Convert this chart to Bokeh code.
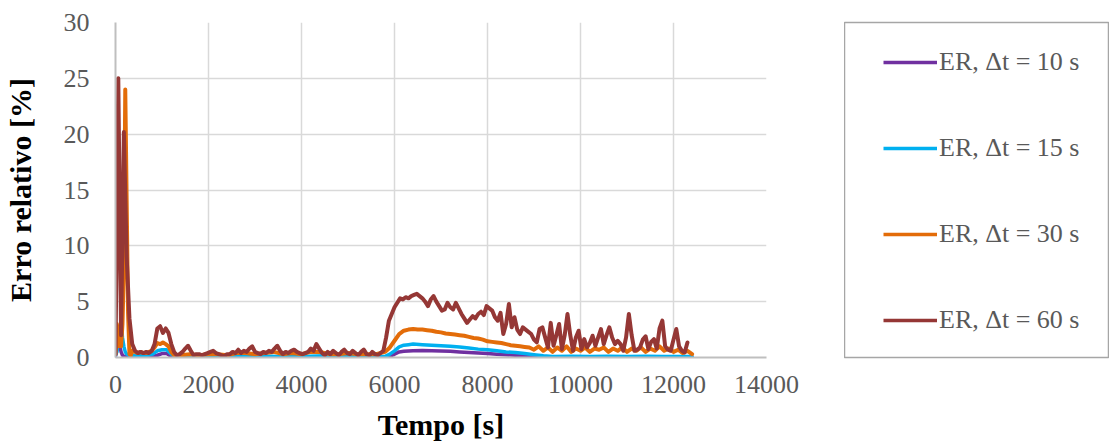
from bokeh.plotting import figure
from bokeh.models import Range1d, FixedTicker, Legend, LegendItem
from bokeh.layouts import row
from bokeh.embed import file_html
from bokeh.resources import INLINE

# ---------------- data ----------------
x_ticks = [0, 2000, 4000, 6000, 8000, 10000, 12000, 14000]
y_ticks = [0, 5, 10, 15, 20, 25, 30]

labels = ["ER, \u0394t = 10 s", "ER, \u0394t = 15 s", "ER, \u0394t = 30 s", "ER, \u0394t = 60 s"]
colors = ["#7030A0", "#00B0F0", "#E36C09", "#953735"]

# Δt = 60 s (sampled every 60 s)
er60 = [
    0.3, 25.0, 2.0, 20.2, 9.0, 3.5, 1.2, 0.6, 0.4, 0.5,
    0.4, 0.5, 0.4, 0.6, 1.2, 2.6, 2.8, 2.2, 2.6, 2.2,
    1.2, 0.5, 0.2, 0.3, 0.5, 0.8, 1.05, 0.6, 0.2, 0.3,
    0.3, 0.2, 0.3, 0.4, 0.5, 0.6, 0.4, 0.3, 0.2, 0.1,
    0.3, 0.3, 0.5, 0.4, 0.7, 0.4, 0.6, 0.5, 0.8, 1.0,
    0.5, 0.4, 0.3, 0.5, 0.4, 0.6, 0.5, 0.8, 1.05, 0.6,
    0.3, 0.5, 0.4, 0.6, 0.7, 0.5, 0.4, 0.3, 0.4, 0.5,
    0.8, 0.6, 1.2, 0.8, 0.4, 0.2, 0.5, 0.3, 0.6, 0.4,
    0.2, 0.5, 0.7, 0.4, 0.3, 0.6, 0.4, 0.2, 0.5, 0.7,
    0.3, 0.2, 0.5, 0.3, 0.2, 0.4, 0.6, 1.8, 3.3, 3.9,
    4.5, 4.9, 5.3, 5.2, 5.4, 5.3, 5.5, 5.6, 5.7, 5.5,
    5.3, 5.0, 4.6, 5.2, 5.5, 5.0, 4.6, 4.2, 4.3, 4.9,
    4.5, 4.3, 4.9, 4.4, 3.9, 3.5, 3.1, 3.4, 3.7, 3.5,
    3.9, 4.1, 3.8, 4.6, 4.4, 4.2, 3.6, 3.3, 4.0, 2.1,
    3.0, 4.8, 2.7, 3.6, 2.5, 2.1, 2.7, 2.5, 2.3, 2.1,
    1.6, 1.35, 2.55, 2.7, 1.8, 0.9, 3.1, 1.05, 2.0, 3.0,
    0.75, 2.0, 3.9, 2.0, 0.6, 1.8, 2.4, 0.75, 1.65, 0.9,
    1.3, 1.95, 1.05, 1.8, 2.55, 1.2, 2.0, 2.7, 1.8, 1.2,
    1.5, 1.2, 0.6, 1.8, 3.9, 2.0, 0.6, 0.7, 0.9, 1.6,
    1.9, 0.75, 1.4, 1.65, 0.8, 2.6, 3.3, 1.0, 0.7, 0.6,
    1.6, 2.55, 1.0, 0.6, 0.45, 1.35,
]
t60 = [60 * i for i in range(len(er60))]

# Δt = 30 s
t30 = [0, 30, 60, 90, 120, 150, 180, 210, 240, 270, 300, 330, 360, 420, 480,
       540, 600, 660, 720, 780, 840, 900, 960, 1020, 1080, 1140, 1200, 1260,
       1320, 1400, 1600, 1800, 2000, 2200, 2400, 2600, 2800, 3000, 3200, 3400,
       3600, 3800, 4000, 4200, 4400, 4600, 4800, 5000, 5200, 5400, 5600, 5800,
       5900, 6000, 6100, 6200, 6300, 6400, 6500, 6600, 6700, 6800, 6900, 7000,
       7100, 7200, 7300, 7400, 7500, 7600, 7700, 7800, 7900, 8000, 8100, 8200,
       8300, 8400, 8500, 8600, 8700, 8800, 8900, 9000, 9100, 9200, 9300, 9400,
       9500, 9600, 9700, 9800, 9900, 10000, 10100, 10200, 10300, 10400, 10500,
       10600, 10700, 10800, 10900, 11000, 11100, 11200, 11300, 11400, 11500,
       11600, 11700, 11800, 11900, 12000, 12100, 12200, 12300, 12400]
er30 = [0.3, 3.0, 1.0, 2.0, 1.0, 3.0, 8.0, 24.0, 14.0, 4.0, 0.3, 0.2, 0.6, 0.5, 0.4,
        0.5, 0.4, 0.4, 0.5, 0.6, 0.9, 1.3, 1.2, 1.35, 1.2, 1.0, 0.5, 0.2,
        0.15, 0.2, 0.3, 0.2, 0.3, 0.3, 0.2, 0.4, 0.4, 0.3, 0.4, 0.5,
        0.3, 0.4, 0.3, 0.5, 0.5, 0.3, 0.3, 0.4, 0.3, 0.3, 0.3, 0.5,
        0.9, 1.5, 2.1, 2.4, 2.5, 2.55, 2.5, 2.5, 2.45, 2.4, 2.3, 2.25,
        2.15, 2.1, 2.05, 2.0, 1.95, 1.85, 1.75, 1.7, 1.6, 1.45, 1.4, 1.35,
        1.3, 1.2, 1.1, 1.05, 1.0, 0.95, 0.9, 0.7, 1.0, 0.6, 0.9, 0.5,
        0.9, 0.6, 1.0, 0.5, 0.8, 0.6, 0.9, 0.5, 0.8, 0.7, 0.9,
        0.5, 0.8, 0.6, 0.9, 0.5, 0.8, 0.6, 0.9, 0.5, 0.8,
        0.6, 1.0, 0.6, 0.8, 0.5, 0.7, 0.4, 0.6, 0.3]

# Δt = 15 s
t15 = [0, 30, 60, 90, 120, 150, 180, 210, 240, 300, 400, 500, 600, 700, 800,
       900, 1000, 1100, 1200, 1300, 1500, 2000, 2500, 3000, 3500, 4000, 4500,
       5000, 5500, 5800, 5900, 6000, 6100, 6200, 6300, 6400, 6600, 6800, 7000,
       7200, 7400, 7600, 7800, 8000, 8200, 8400, 8600, 8800, 9000, 9200, 9400,
       9800, 10200, 10600, 11000, 11400, 11800, 12200, 12400]
er15 = [0.2, 0.5, 1.5, 1.0, 3.2, 1.8, 1.0, 0.5, 0.3, 0.2, 0.2, 0.2, 0.2, 0.2, 0.3,
        0.6, 0.7, 0.7, 0.3, 0.1, 0.1, 0.1, 0.1, 0.15, 0.1, 0.1, 0.15,
        0.1, 0.1, 0.1, 0.3, 0.6, 0.95, 1.1, 1.15, 1.2, 1.15, 1.1, 1.05,
        1.0, 0.95, 0.85, 0.75, 0.7, 0.6, 0.5, 0.45, 0.35, 0.25, 0.15, 0.1,
        0.12, 0.1, 0.12, 0.1, 0.12, 0.1, 0.1, 0.1]

# Δt = 10 s
t10 = [0, 20, 40, 60, 80, 100, 120, 150, 200, 400, 600, 800, 900, 1000, 1100,
       1200, 1500, 2000, 3000, 4000, 5000, 5900, 6000, 6100, 6200, 6400, 6600,
       6800, 7000, 7200, 7400, 7600, 7800, 8000, 8200, 8400, 8600, 8800, 9000,
       10000, 11000, 12000, 12400]
er10 = [0.1, 0.5, 1.2, 0.8, 1.0, 0.9, 0.5, 0.2, 0.1, 0.1, 0.1, 0.1, 0.2, 0.35, 0.35,
        0.1, 0.05, 0.05, 0.05, 0.05, 0.05, 0.1, 0.3, 0.5, 0.55, 0.6, 0.62,
        0.6, 0.58, 0.55, 0.5, 0.45, 0.4, 0.35, 0.3, 0.25, 0.2, 0.15, 0.08,
        0.05, 0.05, 0.05, 0.05]

series_t = [t10, t15, t30, t60]
series_v = [er10, er15, er30, er60]
widths = [3.5, 3.5, 4, 4]

FONT = "Liberation Serif"

# ---------------- chart ----------------
p = figure(width=844, height=446, x_range=Range1d(0, 14000), y_range=Range1d(0, 30),
           output_backend="svg", toolbar_location=None,
           min_border_left=115, min_border_right=78, min_border_top=22, min_border_bottom=89)
p.outline_line_color = None
p.background_fill_color = "white"

for t, v, c, w in zip(series_t, series_v, colors, widths):
    p.line(t, v, line_color=c, line_width=w, line_join="round", line_cap="round")

p.xaxis.ticker = FixedTicker(ticks=x_ticks)
p.yaxis.ticker = FixedTicker(ticks=y_ticks)
p.xgrid.ticker = FixedTicker(ticks=x_ticks)
p.ygrid.ticker = FixedTicker(ticks=y_ticks)
p.grid.grid_line_color = "#D9D9D9"
p.grid.grid_line_width = 1.5

for ax in (p.xaxis, p.yaxis):
    ax.axis_line_color = "#BFBFBF"
    ax.axis_line_width = 2
    ax.major_tick_line_color = None
    ax.minor_tick_line_color = None
    ax.major_tick_out = 0
    ax.major_tick_in = 0
    ax.major_label_text_font = FONT
    ax.major_label_text_font_size = "26px"
    ax.major_label_text_color = "#595959"
    ax.axis_label_text_font = FONT
    ax.axis_label_text_font_size = "30px"
    ax.axis_label_text_font_style = "bold"
    ax.axis_label_text_color = "black"

p.xaxis.axis_label = "Tempo [s]"
p.yaxis.axis_label = "Erro relativo [%]"
p.xaxis.major_label_standoff = 18
p.xaxis.axis_label_standoff = 12
p.yaxis.major_label_standoff = 26
p.yaxis.axis_label_standoff = 24

# ---------------- legend panel ----------------
r = figure(width=265, height=446, x_range=Range1d(0, 1), y_range=Range1d(0, 1),
           x_axis_type=None, y_axis_type=None, output_backend="svg", toolbar_location=None,
           min_border_left=0, min_border_right=1, min_border_top=22, min_border_bottom=87)
r.outline_line_color = "#A6A6A6"
r.outline_line_width = 1.5
r.grid.visible = False

items = []
for lab, c in zip(labels, colors):
    d = r.line([float("nan")], [float("nan")], line_color=c, line_width=3.5)
    items.append(LegendItem(label=lab, renderers=[d]))

leg = Legend(items=items, location=(39, 22), orientation="vertical",
             glyph_width=54, glyph_height=30, label_height=30, label_standoff=2,
             spacing=56, padding=0, margin=0,
             border_line_color=None, background_fill_alpha=0,
             label_text_font=FONT, label_text_font_size="26px",
             label_text_color="#595959")
r.add_layout(leg)

layout = row(p, r)
open("out.html", "w").write(file_html(layout, INLINE))
